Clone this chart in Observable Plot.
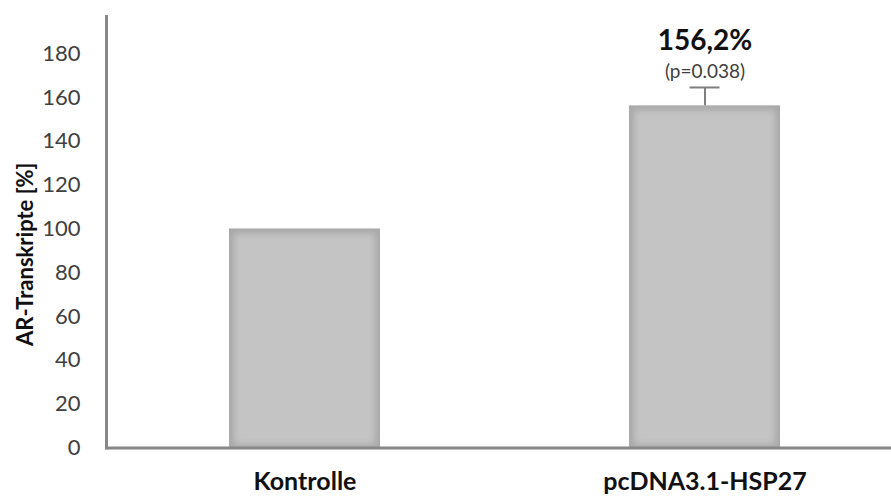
<!DOCTYPE html>
<html>
<head>
<meta charset="utf-8">
<script src="https://cdn.jsdelivr.net/npm/d3@7"></script>
<script src="https://cdn.jsdelivr.net/npm/@observablehq/plot@0.6"></script>
<style>
  html, body { margin: 0; padding: 0; background: #fff; }
  #chart svg { display: block; }
</style>
</head>
<body>
<div id="chart"></div>
<script>
// AR transcript levels relative to control
const categories = ["Kontrolle", "pcDNA3.1-HSP27"];
const values = [100, 156.2];
const errorsUp = [0, 8.4];
const valueLabels = ["", "156,2%"];
const pLabels = ["", "(p=0.038)"];
const yTicks = [0, 20, 40, 60, 80, 100, 120, 140, 160, 180];
const yLabel = "AR-Transkripte [%]";

const rows = categories.map((c, i) => ({
  cat: c, value: values[i], err: errorsUp[i], label: valueLabels[i], p: pLabels[i]
}));
const withErr = rows.filter(d => d.err > 0);

const font = "Lato, 'Open Sans', sans-serif";

const plot = Plot.plot({
  width: 891,
  height: 496,
  marginTop: 16,
  marginBottom: 48.5,
  marginLeft: 106,
  marginRight: 0,
  style: { fontFamily: font, background: "#fff" },
  x: { domain: categories, range: [104, 904], paddingInner: 0.6225, paddingOuter: 0.31125, label: null },
  y: { domain: [0, 197], label: null },
  marks: [
    // bar body: darker rim with a soft lighter core
    Plot.barY(rows, { x: "cat", y: "value", fill: "#a9a9a9" }),
    Plot.barY(rows, { x: "cat", y: "value", fill: "#c4c4c4", inset: 5, insetBottom: 3 }),
    // error bar (upper only)
    Plot.ruleX(withErr, { x: "cat", y1: "value", y2: d => d.value + d.err, stroke: "#7f7f7f", strokeWidth: 2 }),
    Plot.tickY(withErr, { x: "cat", y: d => d.value + d.err, stroke: "#7f7f7f", strokeWidth: 2, insetLeft: 60.5, insetRight: 60.5 }),
    // value and p-value annotations
    Plot.text(withErr, { x: "cat", y: d => d.value + d.err, text: "p", dy: -9, lineAnchor: "bottom", fontSize: 19, fill: "#404040" }),
    Plot.text(withErr, { x: "cat", y: d => d.value + d.err, text: "label", dy: -37, lineAnchor: "bottom", fontSize: 28, fontWeight: "bold", fill: "#111" }),
    // axes
    Plot.axisY({ ticks: yTicks, tickSize: 0, tickPadding: 26, fontSize: 22, fill: "#404040", label: null }),
    Plot.axisX({ tickSize: 0, tickPadding: 24, fontSize: 25, fontWeight: "bold", fill: "#111", label: null }),
    Plot.frame({ anchor: "left", stroke: "#888", strokeWidth: 3 }),
    Plot.ruleY([0], { stroke: "#888", strokeWidth: 3 }),
    Plot.text([yLabel], { frameAnchor: "left", textAnchor: "middle", rotate: -90, dx: -81, dy: 22, fontSize: 22, fontWeight: "bold", fill: "#111" })
  ]
});

// soften the inner core of the bars
const barGroups = plot.querySelectorAll('g[aria-label="bar"]');
if (barGroups[1]) barGroups[1].style.filter = "blur(3px)";

document.getElementById("chart").appendChild(plot);
</script>
</body>
</html>
